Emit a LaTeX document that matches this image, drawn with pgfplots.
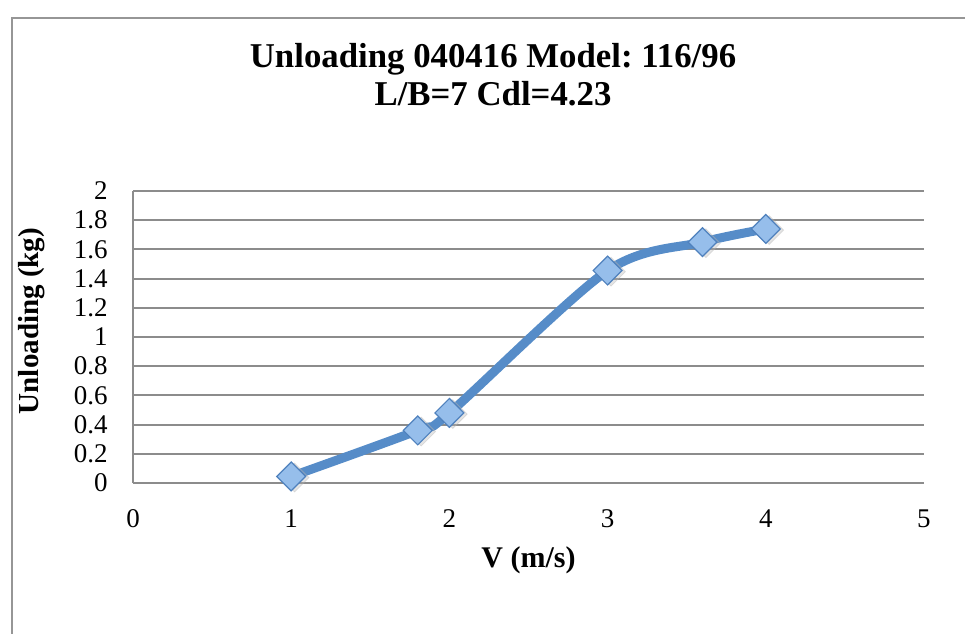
\documentclass[border=0pt]{standalone}
\usepackage{pgfplots}
\pgfplotsset{compat=1.18}
\usepackage{fontspec}
\setmainfont{Liberation Serif}
\frenchspacing

\definecolor{gridgray}{RGB}{140,140,140}
\definecolor{framegray}{RGB}{150,150,150}
\definecolor{lineblue}{RGB}{86,140,200}
\definecolor{markfill}{RGB}{150,190,235}
\definecolor{markedge}{RGB}{79,129,189}

\pgfplotstableread{
v    load
1.0  0.045
1.8  0.36
2.0  0.48
3.0  1.455
3.6  1.65
4.0  1.74
}\unloading

\begin{document}
\begin{tikzpicture}
% page box and outer chart frame
\path (0,0) rectangle (482.5pt,316.5pt);
\begin{scope}
\clip (0,0) rectangle (482.5pt,316.5pt);
\draw[framegray, line width=1pt] (6pt,-5pt) -- (6pt,307.5pt) -- (490pt,307.5pt);
\end{scope}

% title
\node[anchor=base, font=\fontsize{17.4}{20}\selectfont\bfseries] at (246.5pt,282.5pt) {Unloading 040416 Model: 116/96};
\node[anchor=base, font=\fontsize{17.4}{20}\selectfont\bfseries] at (246.5pt,263.5pt) {L/B=7 Cdl=4.23};

\begin{axis}[
  at={(66.5pt,75pt)}, anchor=south west,
  width=395.5pt, height=146pt, scale only axis,
  xmin=0, xmax=5, ymin=0, ymax=2,
  xtick=\empty,
  ytick={0,0.2,0.4,0.6,0.8,1,1.2,1.4,1.6,1.8,2},
  yticklabels={0,0.2,0.4,0.6,0.8,1,1.2,1.4,1.6,1.8,2},
  axis x line=none,
  axis y line*=left,
  axis line style={gridgray, line width=1pt, -},
  major tick length=0pt,
  ymajorgrids,
  grid style={gridgray, line width=1pt},
  yticklabel style={font=\fontsize{13.5}{15}\selectfont, anchor=east, inner sep=0pt, xshift=-12.5pt},
  clip=false,
]
% x tick labels set below the zero gridline
\pgfplotsinvokeforeach{0,1,2,3,4,5}{
  \node[anchor=base, font=\fontsize{13.5}{15}\selectfont] at (axis cs:#1,0) [yshift=-22pt] {#1};
}
\node[anchor=base, font=\fontsize{15}{17}\selectfont\bfseries] at (axis cs:2.5,0) [yshift=-42pt] {V (m/s)};

% marker shadows
\addplot[only marks, mark=square*, mark size=5.1pt, gray!60, opacity=0.35,
  mark options={rotate=45, xshift=0.8pt, yshift=-1.6pt, draw=none}]
  table[x=v, y=load] {\unloading};
% smoothed data line with diamond markers
\addplot[lineblue, line width=4.5pt, smooth, tension=0.5, mark=square*, mark size=5.1pt,
  mark options={rotate=45, fill=markfill, draw=markedge, line width=0.6pt}]
  table[x=v, y=load] {\unloading};
\end{axis}

\node[rotate=90, font=\fontsize{14.5}{17}\selectfont\bfseries] at (15.75pt,156pt) {Unloading (kg)};
\end{tikzpicture}
\end{document}
